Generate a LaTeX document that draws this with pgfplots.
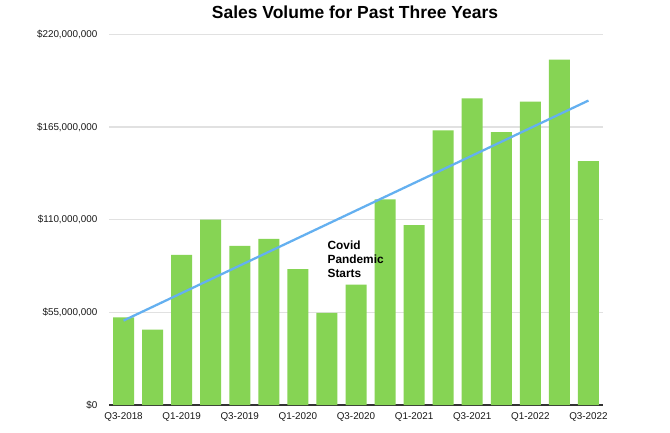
\documentclass[border=0pt]{standalone}
\usepackage{pgfplots}
\pgfplotsset{compat=1.18}
\usepackage{fontspec}
\setmainfont{Liberation Sans}
\definecolor{bargreen}{RGB}{134,212,84}
\definecolor{trendblue}{RGB}{100,176,240}
\definecolor{gridgray}{RGB}{225,225,225}
\begin{document}
\begin{tikzpicture}[x=1pt,y=1pt]
\useasboundingbox[fill=white] (0,0) rectangle (502.5,324);
\begin{axis}[
  at={(81.75pt,20.25pt)}, anchor=south west,
  scale only axis, width=370.5pt, height=278pt,
  xmin=-0.5, xmax=16.5, ymin=0, ymax=220,
  axis x line*=bottom,
  axis y line*=left,
  y axis line style={draw=none},
  x axis line style={draw=black!80, line width=1pt, -},
  major tick length=0pt,
  ytick={0,55,110,165,220},
  yticklabels={{\$0},{\$55,000,000},{\$110,000,000},{\$165,000,000},{\$220,000,000}},
  xtick={0,2,4,6,8,10,12,14,16},
  xticklabels={Q3-2018,Q1-2019,Q3-2019,Q1-2020,Q3-2020,Q1-2021,Q3-2021,Q1-2022,Q3-2022},
  ymajorgrids,
  grid style={gridgray, line width=0.8pt},
  tick label style={font=\fontsize{7.4}{9}\selectfont, text=black!90},
  yticklabel style={anchor=east, inner sep=0pt, xshift=-8.5pt},
  xticklabel style={anchor=north, inner sep=0pt, yshift=-5.5pt},
  clip=false,
]
\addplot[ybar, bar width=15.75pt, fill=bargreen, draw=none] coordinates {
  (0,52.0) (1,44.8) (2,89.1) (3,110.0) (4,94.5) (5,98.6) (6,80.7) (7,54.7)
  (8,71.4) (9,122.0) (10,106.8) (11,163.0) (12,182.0) (13,162.0) (14,180.0)
  (15,205.0) (16,144.7)
};
\addplot[trendblue, line width=1.7pt, mark=none] coordinates {(0,50.1) (16,180.7)};
\end{axis}
\node[font=\fontsize{13.1}{15}\selectfont\bfseries, anchor=base] at (266.25,310.3) {Sales Volume for Past Three Years};
\node[font=\fontsize{8.9}{10.5}\selectfont\bfseries, anchor=north west, align=left, inner sep=0pt] at (245.5,143.2) {Covid\\Pandemic\\Starts};
\end{tikzpicture}
\end{document}
